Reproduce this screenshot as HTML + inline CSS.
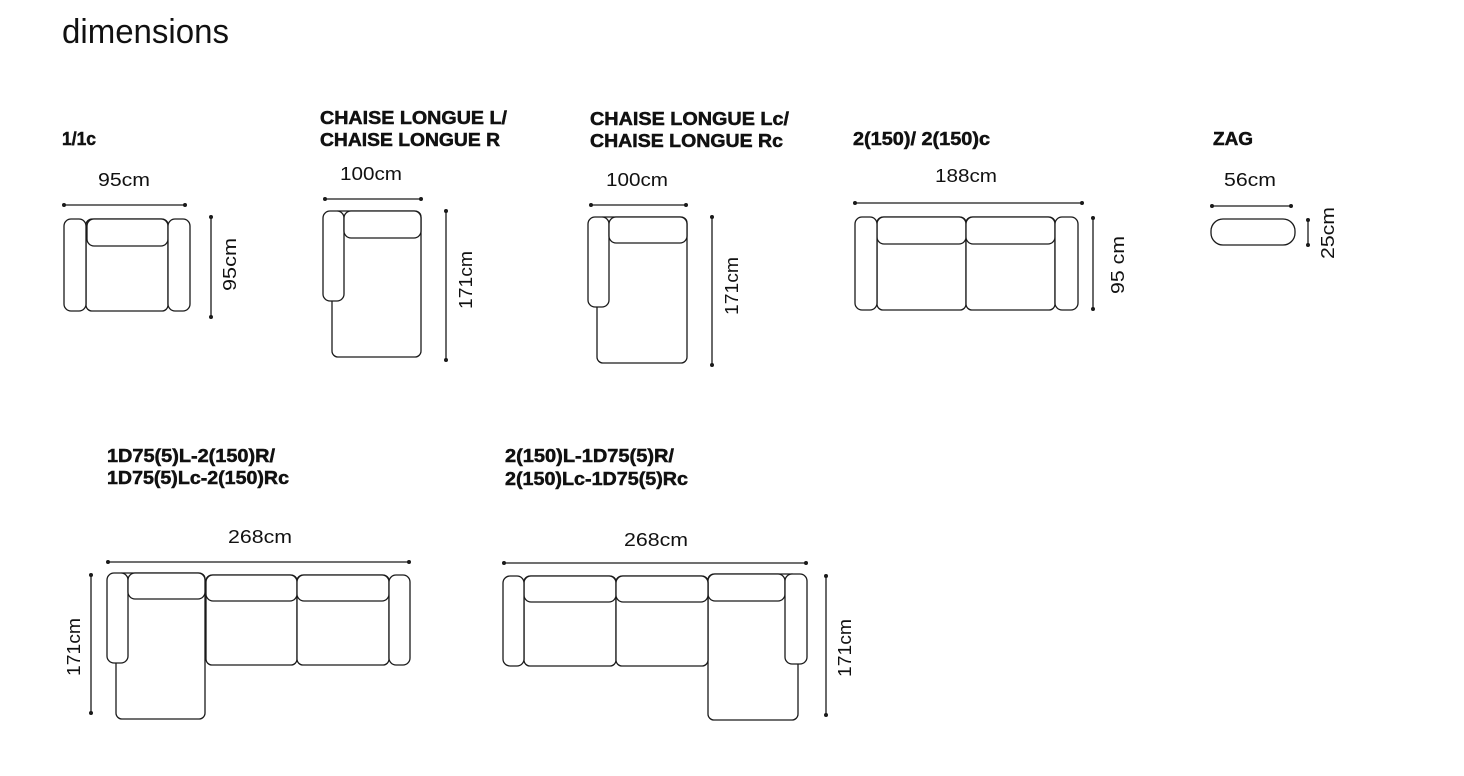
<!DOCTYPE html>
<html><head><meta charset="utf-8"><style>
html,body{margin:0;padding:0;background:#fff;}
svg{display:block;}
.s{fill:#fff;stroke:#1a1a1a;stroke-width:1.3;}
.l{stroke:#1a1a1a;stroke-width:1.3;}
.d{fill:#1a1a1a;}
.lb{font-family:"Liberation Sans",sans-serif;font-weight:bold;font-size:18px;fill:#111;stroke:#111;stroke-width:0.5;}
.dt{font-family:"Liberation Sans",sans-serif;font-size:18px;fill:#111;}
</style></head><body>
<svg width="1464" height="776" viewBox="0 0 1464 776" xmlns="http://www.w3.org/2000/svg">
<text x="62" y="43" font-family="Liberation Sans,sans-serif" font-size="34" fill="#111" textLength="167" lengthAdjust="spacingAndGlyphs">dimensions</text>

<text class="lb" x="62" y="145" textLength="34" lengthAdjust="spacingAndGlyphs">1/1c</text>
<text class="lb" x="320" y="124" textLength="187" lengthAdjust="spacingAndGlyphs">CHAISE LONGUE L/</text>
<text class="lb" x="320" y="146" textLength="180" lengthAdjust="spacingAndGlyphs">CHAISE LONGUE R</text>
<text class="lb" x="590" y="125" textLength="199" lengthAdjust="spacingAndGlyphs">CHAISE LONGUE Lc/</text>
<text class="lb" x="590" y="147" textLength="193" lengthAdjust="spacingAndGlyphs">CHAISE LONGUE Rc</text>
<text class="lb" x="853" y="145" textLength="137" lengthAdjust="spacingAndGlyphs">2(150)/ 2(150)c</text>
<text class="lb" x="1213" y="145" textLength="40" lengthAdjust="spacingAndGlyphs">ZAG</text>
<text class="lb" x="107" y="462" textLength="168" lengthAdjust="spacingAndGlyphs">1D75(5)L-2(150)R/</text>
<text class="lb" x="107" y="484" textLength="182" lengthAdjust="spacingAndGlyphs">1D75(5)Lc-2(150)Rc</text>
<text class="lb" x="505" y="462" textLength="169" lengthAdjust="spacingAndGlyphs">2(150)L-1D75(5)R/</text>
<text class="lb" x="505" y="485" textLength="183" lengthAdjust="spacingAndGlyphs">2(150)Lc-1D75(5)Rc</text>

<text class="dt" x="98" y="186" textLength="52" lengthAdjust="spacingAndGlyphs">95cm</text>
<text class="dt" x="340" y="180" textLength="62" lengthAdjust="spacingAndGlyphs">100cm</text>
<text class="dt" x="606" y="186" textLength="62" lengthAdjust="spacingAndGlyphs">100cm</text>
<text class="dt" x="935" y="182" textLength="62" lengthAdjust="spacingAndGlyphs">188cm</text>
<text class="dt" x="1224" y="186" textLength="52" lengthAdjust="spacingAndGlyphs">56cm</text>
<text class="dt" x="228" y="543" textLength="64" lengthAdjust="spacingAndGlyphs">268cm</text>
<text class="dt" x="624" y="546" textLength="64" lengthAdjust="spacingAndGlyphs">268cm</text>
<text class="dt" transform="translate(236,291) rotate(-90)" textLength="53" lengthAdjust="spacingAndGlyphs">95cm</text>
<text class="dt" transform="translate(472,309) rotate(-90)" textLength="58" lengthAdjust="spacingAndGlyphs">171cm</text>
<text class="dt" transform="translate(738,315) rotate(-90)" textLength="58" lengthAdjust="spacingAndGlyphs">171cm</text>
<text class="dt" transform="translate(1124,294) rotate(-90)" textLength="58" lengthAdjust="spacingAndGlyphs">95 cm</text>
<text class="dt" transform="translate(1334,259) rotate(-90)" textLength="52" lengthAdjust="spacingAndGlyphs">25cm</text>
<text class="dt" transform="translate(80,676) rotate(-90)" textLength="58" lengthAdjust="spacingAndGlyphs">171cm</text>
<text class="dt" transform="translate(851,677) rotate(-90)" textLength="58" lengthAdjust="spacingAndGlyphs">171cm</text>

<g>
<line class="l" x1="64" y1="205" x2="185" y2="205"/><circle class="d" cx="64" cy="205" r="2"/><circle class="d" cx="185" cy="205" r="2"/>
<line class="l" x1="211" y1="217" x2="211" y2="317"/><circle class="d" cx="211" cy="217" r="2"/><circle class="d" cx="211" cy="317" r="2"/>
<line class="l" x1="325" y1="199" x2="421" y2="199"/><circle class="d" cx="325" cy="199" r="2"/><circle class="d" cx="421" cy="199" r="2"/>
<line class="l" x1="446" y1="211" x2="446" y2="360"/><circle class="d" cx="446" cy="211" r="2"/><circle class="d" cx="446" cy="360" r="2"/>
<line class="l" x1="591" y1="205" x2="686" y2="205"/><circle class="d" cx="591" cy="205" r="2"/><circle class="d" cx="686" cy="205" r="2"/>
<line class="l" x1="712" y1="217" x2="712" y2="365"/><circle class="d" cx="712" cy="217" r="2"/><circle class="d" cx="712" cy="365" r="2"/>
<line class="l" x1="855" y1="203" x2="1082" y2="203"/><circle class="d" cx="855" cy="203" r="2"/><circle class="d" cx="1082" cy="203" r="2"/>
<line class="l" x1="1093" y1="218" x2="1093" y2="309"/><circle class="d" cx="1093" cy="218" r="2"/><circle class="d" cx="1093" cy="309" r="2"/>
<line class="l" x1="1212" y1="206" x2="1291" y2="206"/><circle class="d" cx="1212" cy="206" r="2"/><circle class="d" cx="1291" cy="206" r="2"/>
<line class="l" x1="1308" y1="220" x2="1308" y2="245"/><circle class="d" cx="1308" cy="220" r="2"/><circle class="d" cx="1308" cy="245" r="2"/>
<line class="l" x1="108" y1="562" x2="409" y2="562"/><circle class="d" cx="108" cy="562" r="2"/><circle class="d" cx="409" cy="562" r="2"/>
<line class="l" x1="91" y1="575" x2="91" y2="713"/><circle class="d" cx="91" cy="575" r="2"/><circle class="d" cx="91" cy="713" r="2"/>
<line class="l" x1="504" y1="563" x2="806" y2="563"/><circle class="d" cx="504" cy="563" r="2"/><circle class="d" cx="806" cy="563" r="2"/>
<line class="l" x1="826" y1="576" x2="826" y2="715"/><circle class="d" cx="826" cy="576" r="2"/><circle class="d" cx="826" cy="715" r="2"/>
</g>

<rect class="s" x="86" y="219" width="82" height="92" rx="6"/>
<rect class="s" x="87" y="219" width="81" height="27" rx="7"/>
<rect class="s" x="64" y="219" width="22" height="92" rx="7"/>
<rect class="s" x="168" y="219" width="22" height="92" rx="7"/>

<rect class="s" x="332" y="211" width="89" height="146" rx="6"/>
<rect class="s" x="323" y="211" width="21" height="90" rx="7"/>
<rect class="s" x="344" y="211" width="77" height="27" rx="7"/>

<rect class="s" x="597" y="217" width="90" height="146" rx="6"/>
<rect class="s" x="588" y="217" width="21" height="90" rx="7"/>
<rect class="s" x="609" y="217" width="78" height="26" rx="7"/>

<rect class="s" x="877" y="217" width="89" height="93" rx="6"/>
<rect class="s" x="966" y="217" width="89" height="93" rx="6"/>
<rect class="s" x="877" y="217" width="89" height="27" rx="7"/>
<rect class="s" x="966" y="217" width="89" height="27" rx="7"/>
<rect class="s" x="855" y="217" width="22" height="93" rx="7"/>
<rect class="s" x="1055" y="217" width="23" height="93" rx="7"/>

<rect class="s" x="1211" y="219" width="84" height="26" rx="12"/>

<rect class="s" x="116" y="573" width="89" height="146" rx="6"/>
<rect class="s" x="107" y="573" width="21" height="90" rx="7"/>
<rect class="s" x="128" y="573" width="77" height="26" rx="7"/>
<rect class="s" x="206" y="575" width="91" height="90" rx="6"/>
<rect class="s" x="297" y="575" width="92" height="90" rx="6"/>
<rect class="s" x="206" y="575" width="91" height="26" rx="7"/>
<rect class="s" x="297" y="575" width="92" height="26" rx="7"/>
<rect class="s" x="389" y="575" width="21" height="90" rx="7"/>

<rect class="s" x="708" y="574" width="90" height="146" rx="6"/>
<rect class="s" x="708" y="574" width="77" height="27" rx="7"/>
<rect class="s" x="785" y="574" width="22" height="90" rx="7"/>
<rect class="s" x="524" y="576" width="92" height="90" rx="6"/>
<rect class="s" x="616" y="576" width="92" height="90" rx="6"/>
<rect class="s" x="524" y="576" width="92" height="26" rx="7"/>
<rect class="s" x="616" y="576" width="92" height="26" rx="7"/>
<rect class="s" x="503" y="576" width="21" height="90" rx="7"/>
</svg>
</body></html>
